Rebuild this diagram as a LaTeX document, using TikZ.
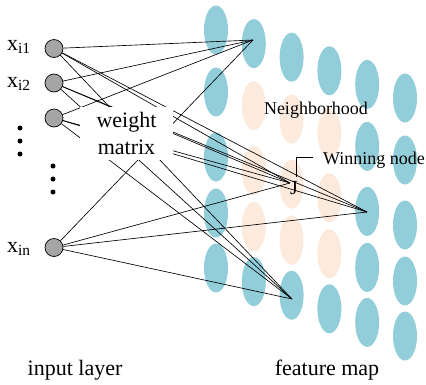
\documentclass[tikz,border=0pt]{standalone}
\usepackage{fontspec}
\setmainfont{Liberation Serif}
\usetikzlibrary{shapes.geometric}
\definecolor{mapblue}{HTML}{92CDDA}
\definecolor{peach}{HTML}{FCEADD}
\definecolor{nodegray}{HTML}{A5A5A5}
\tikzset{
  ell/.style={ellipse, draw=none, inner sep=0pt, minimum width=24pt, minimum height=49pt},
  inp/.style={circle, draw=black, line width=0.7pt, fill=nodegray, inner sep=0pt, minimum size=18pt},
  wire/.style={draw=black, line width=0.65pt},
  dotnode/.style={circle, fill=black, inner sep=0pt, minimum size=5pt},
  biglab/.style={font=\fontsize{22}{27}\selectfont, inner sep=0pt},
  midlab/.style={font=\fontsize{18}{22}\selectfont, inner sep=0pt},
}
\begin{document}
\begin{tikzpicture}[x=1pt,y=-1pt]
\useasboundingbox (0,0) rectangle (426,384);
% feature map ellipses
\foreach \k in {0,...,5}{
  \foreach \r/\dy in {0/0,1/62,2/127,3/183,4/238}{
    \pgfmathtruncatemacro\pk{(\k>0)*(\k<4)*(\r>0)*(\r<4)}
    \ifnum\pk=1 \def\col{peach}\else\def\col{mapblue}\fi
    \node[ell, fill=\col] (e\k\r) at ({216+37.8*\k},{30+13.6*\k+\dy}) {};
  }
}
% input nodes
\node[inp] (i1) at (54,48.5) {};
\node[inp] (i2) at (54,83) {};
\node[inp] (i3) at (54,118) {};
\node[inp] (i4) at (54,247.5) {};
% target points
\coordinate (A) at (253,40);
\coordinate (J) at (290,183);
\coordinate (B) at (367,212);
\coordinate (C) at (292,299);
% connections
\foreach \s in {i1,i2,i3,i4}{
  \foreach \t in {A,J,B,C}{
    \draw[wire] (\s) -- (\t);
  }
}
% weight matrix box
\node[biglab, fill=white, minimum width=93pt, minimum height=53pt, align=center] (wm) at (126.5,133.5) {weight\\matrix};
% labels
\node[biglab, anchor=base west] (l1) at (7,50.5) {x\textsubscript{i1}};
\node[biglab, anchor=base west] (l2) at (7,87) {x\textsubscript{i2}};
\node[biglab, anchor=base west] (l4) at (7,252.5) {x\textsubscript{in}};
% dots
\node[dotnode] (d1) at (20,128) {};
\node[dotnode] (d2) at (20,141) {};
\node[dotnode] (d3) at (20,154) {};
\node[dotnode] (d4) at (53,166) {};
\node[dotnode] (d5) at (53,179) {};
\node[dotnode] (d6) at (53,192) {};
% map labels
\node[midlab, anchor=base] (nb) at (316,114) {Neighborhood};
\node[midlab, anchor=base west] (wn) at (323,164) {Winning node};
\node[font=\fontsize{20}{24}\selectfont, inner sep=0pt, anchor=base] (jl) at (294,194) {J};
\coordinate (wl1) at (296,177);
\coordinate (wl2) at (313,157);
\draw[wire] (wl1) |- (wl2);
% bottom labels
\node[biglab, anchor=base] (il) at (75,375) {input layer};
\node[biglab, anchor=base] (fm) at (327,375) {feature map};
\end{tikzpicture}
\end{document}
